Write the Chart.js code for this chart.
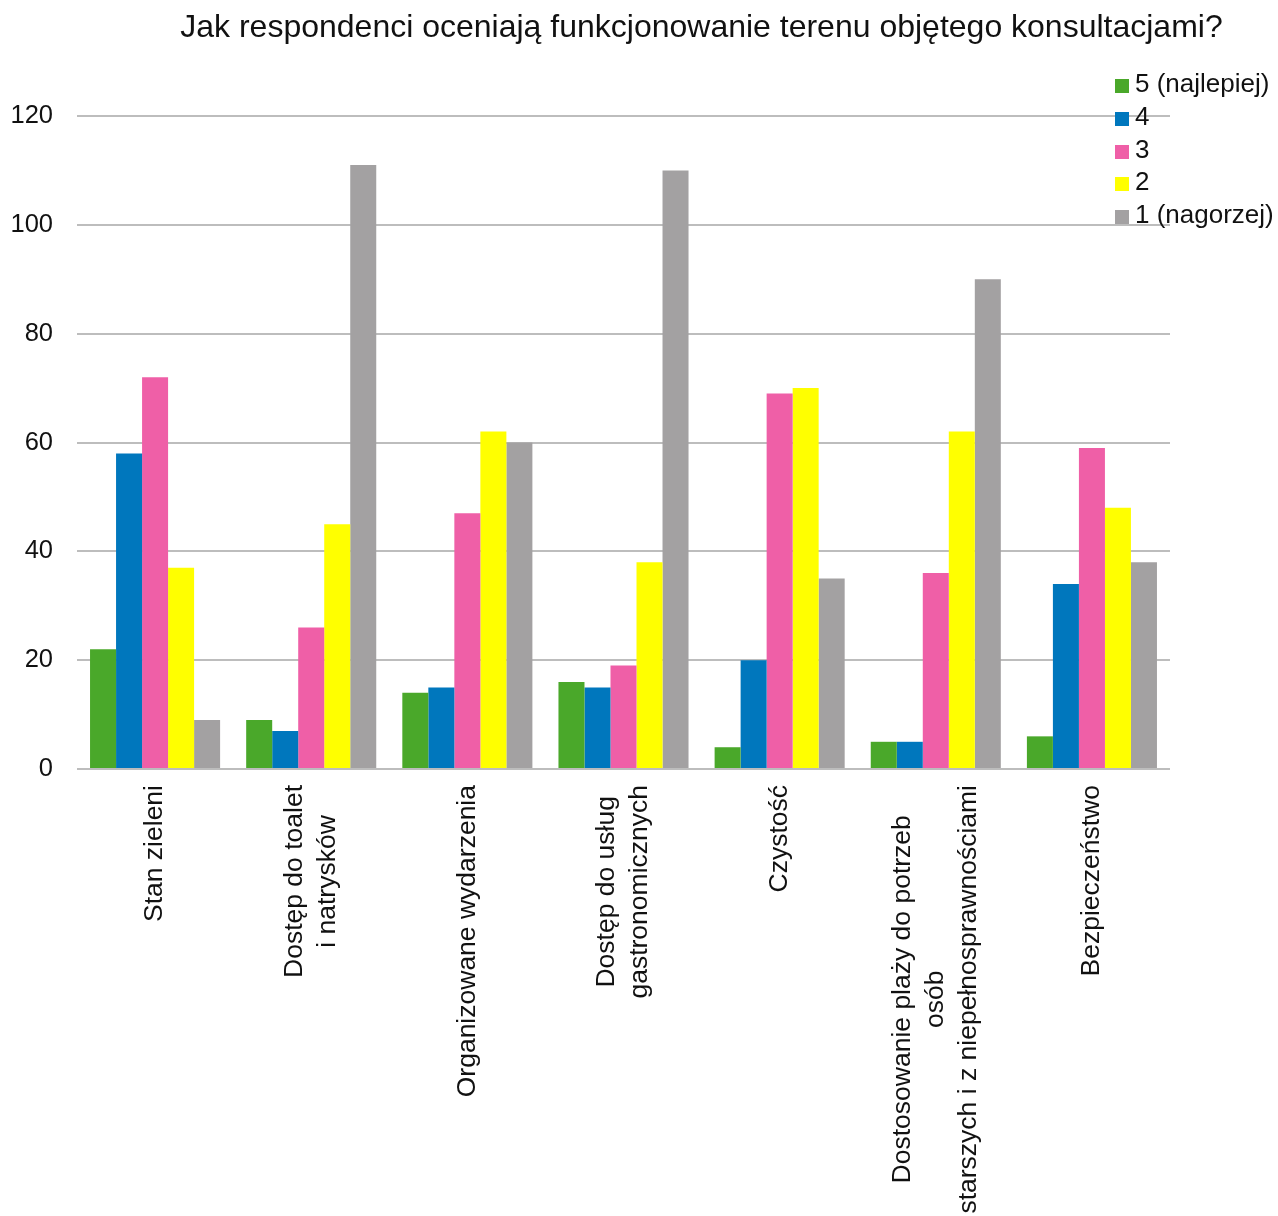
<!DOCTYPE html>
<html>
<head>
<meta charset="utf-8">
<script src="https://cdn.jsdelivr.net/npm/chart.js@4"></script>
<style>
  body { margin: 0; background: #fff; font-family: "Liberation Sans", Arial, sans-serif; }
  #wrap { position: relative; width: 1278px; height: 1216px; }
  #title { position: absolute; top: 8px; left: 161px; width: 1081px; text-align: center; font-size: 32px; color: #111; white-space: nowrap; }
  #legend { position: absolute; left: 1115px; top: 67px; font-size: 26px; color: #111; }
  #legend div { height: 32.8px; line-height: 32.8px; white-space: nowrap; }
  #legend span { display: inline-block; width: 14px; height: 14px; margin-right: 6px; vertical-align: -1px; }
</style>
</head>
<body>
<div id="wrap">
  <canvas id="chart" width="1278" height="1216"></canvas>
  <div id="title">Jak respondenci oceniają funkcjonowanie terenu objętego konsultacjami?</div>
  <div id="legend"></div>
</div>
<script>
const categories = [
  ["Stan zieleni"],
  ["Dostęp do toalet", "i natrysków"],
  ["Organizowane wydarzenia"],
  ["Dostęp do usług", "gastronomicznych"],
  ["Czystość"],
  ["Dostosowanie plaży do potrzeb", "osób", "starszych i z niepełnosprawnościami"],
  ["Bezpieczeństwo"],
];
const seriesNames = ["5 (najlepiej)", "4", "3", "2", "1 (nagorzej)"];
const seriesColors = ["#4aa82a", "#0077bd", "#ef5fa7", "#ffff00", "#a3a1a2"];
const rating5 = [22, 9, 14, 16, 4, 5, 6];
const rating4 = [58, 7, 15, 15, 20, 5, 34];
const rating3 = [72, 26, 47, 19, 69, 36, 59];
const rating2 = [37, 45, 62, 38, 70, 62, 48];
const rating1 = [9, 111, 60, 110, 35, 90, 38];
const yTicks = [0, 20, 40, 60, 80, 100, 120];

const seriesValues = [rating5, rating4, rating3, rating2, rating1];
const FONT = "'Liberation Sans', Arial, sans-serif";

// legend
const legend = document.getElementById("legend");
seriesNames.forEach((name, i) => {
  const row = document.createElement("div");
  row.innerHTML = '<span style="background:' + seriesColors[i] + '"></span>' + name;
  legend.appendChild(row);
});

// rotated, centred multi-line category labels
const categoryLabels = {
  id: "categoryLabels",
  afterDraw(chart) {
    const ctx = chart.ctx;
    const xScale = chart.scales.x;
    const top = chart.chartArea.bottom + 16;
    const lh = 33;
    ctx.save();
    ctx.font = "26.5px " + FONT;
    ctx.fillStyle = "#111";
    ctx.textAlign = "center";
    ctx.textBaseline = "middle";
    categories.forEach((lines, i) => {
      const x = xScale.getPixelForTick(i);
      const w = Math.max(...lines.map((l) => ctx.measureText(l).width));
      ctx.save();
      ctx.translate(x, top);
      ctx.rotate(-Math.PI / 2);
      lines.forEach((line, j) => {
        ctx.fillText(line, -w / 2, (j - (lines.length - 1) / 2) * lh);
      });
      ctx.restore();
    });
    ctx.restore();
  },
};

new Chart(document.getElementById("chart"), {
  type: "bar",
  data: {
    labels: categories.map((c) => c.join(" ")),
    datasets: seriesNames.map((name, i) => ({
      label: name,
      data: seriesValues[i],
      backgroundColor: seriesColors[i],
      borderWidth: 0,
      barPercentage: 1.0,
      categoryPercentage: 0.833,
    })),
  },
  options: {
    responsive: false,
    animation: false,
    layout: { padding: { left: 0, top: 116, right: 108, bottom: 0 } },
    plugins: {
      legend: { display: false },
      tooltip: { enabled: false },
    },
    scales: {
      x: {
        grid: { display: false },
        border: { display: false },
        ticks: { display: false },
        afterFit(scale) {
          scale.height = 447;
        },
      },
      y: {
        min: 0,
        max: 120,
        afterBuildTicks(scale) {
          scale.ticks = yTicks.map((v) => ({ value: v }));
        },
        afterFit(scale) {
          scale.width = 77;
        },
        grid: { color: "#bdbdbd", lineWidth: 2, drawTicks: false },
        border: { display: false },
        ticks: {
          padding: 24,
          color: "#111",
          font: { family: FONT, size: 25.5 },
        },
      },
    },
  },
  plugins: [categoryLabels],
});
</script>
</body>
</html>
